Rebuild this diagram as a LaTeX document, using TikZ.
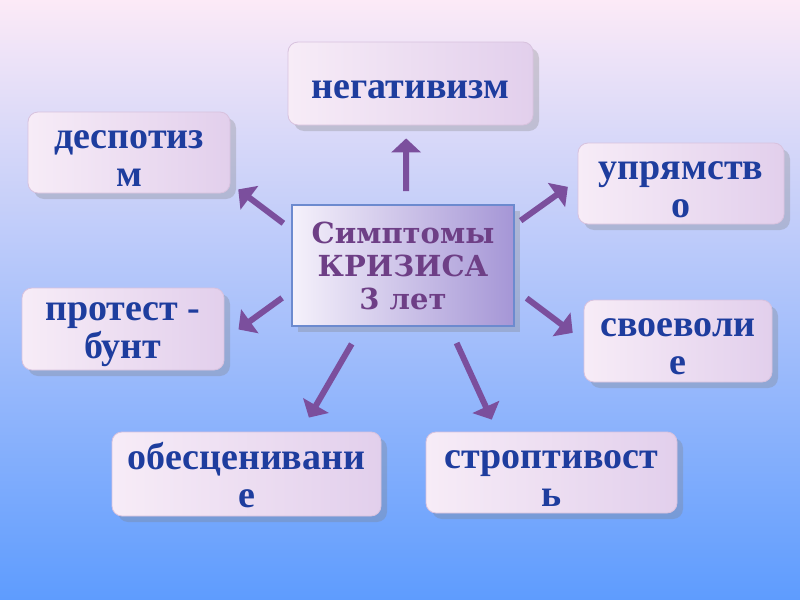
\documentclass[tikz,border=0pt]{standalone}
\usepackage{fontspec}
\setmainfont{Liberation Serif}
\newfontfamily\hubfont{DejaVu Serif}
\usetikzlibrary{arrows.meta,shadows}
\definecolor{bgtop}{HTML}{FCEAF7}
\definecolor{bgmid}{HTML}{A9CDF3}
\definecolor{bgbot}{HTML}{5E9CFE}
\definecolor{boxleft}{HTML}{F7ECF7}
\definecolor{boxright}{HTML}{E2CFEC}
\definecolor{boxline}{HTML}{D8C2DE}
\definecolor{wordblue}{HTML}{1E3D9E}
\definecolor{hubpurple}{HTML}{6E3F86}
\definecolor{arrowpurple}{HTML}{7B4F9D}
\definecolor{hubleft}{HTML}{F5F1FB}
\definecolor{hubright}{HTML}{A596D6}
\definecolor{hubline}{HTML}{6C8ACF}

\begin{document}
\begin{tikzpicture}[
  x=0.5pt,y=-0.5pt,
  >={Triangle[length=7pt,width=14.5pt]},
  symptom/.style={draw=boxline,rounded corners=5pt,left color=boxleft,right color=boxright,
    drop shadow={shadow xshift=3pt,shadow yshift=-3pt,opacity=.3},inner ysep=0pt,
    text=wordblue,align=center,font=\bfseries\fontsize{19}{19}\selectfont,
    execute at begin node={\rule{0pt}{14.7pt}}},
  pair/.style={symptom,execute at begin node={\rule{0pt}{34pt}}},
  hub/.style={draw=hubline,line width=.8pt,left color=hubleft,right color=hubright,
    drop shadow={shadow xshift=3pt,shadow yshift=-3pt,opacity=.3},
    text=hubpurple,align=center,font=\hubfont\bfseries\fontsize{14.5}{16.5}\selectfont},
  flow/.style={->,line width=3pt,draw=arrowpurple}
]
  \shade[top color=bgtop,middle color=bgmid,bottom color=bgbot] (0,0) rectangle (800,600);

  \node[hub,minimum width=111pt,minimum height=60.5pt] (sym) at (403,265.5) {Симптомы\\КРИЗИСА\\3 лет};
  \node[symptom,minimum width=122.5pt,minimum height=41.5pt] (neg) at (410.5,83.5) {негативизм};
  \node[pair,minimum width=101pt,minimum height=40.5pt] (desp) at (129,152.5) {деспотиз\\м};
  \node[pair,minimum width=103pt,minimum height=40.5pt] (upr) at (681,183.5) {упрямств\\о};
  \node[pair,minimum width=101pt,minimum height=41pt] (prot) at (123,329) {протест -\\бунт};
  \node[pair,minimum width=94pt,minimum height=41pt] (svo) at (678,341) {своеволи\\е};
  \node[pair,minimum width=134.5pt,minimum height=42pt] (obes) at (246.5,474) {обесценивани\\е};
  \node[pair,minimum width=125.5pt,minimum height=40.5pt] (strop) at (551.5,472.5) {строптивост\\ь};

  \draw[flow,shorten <=6.5pt,shorten >=6.5pt] (sym.87) -- (neg.-96);
  \draw[flow,shorten <=4.9pt,shorten >=4.9pt] (sym.162) -- (desp.-17.5);
  \draw[flow,shorten <=3.6pt,shorten >=6pt] (sym.20) -- (upr.178.6);
  \draw[flow,shorten <=5.6pt,shorten >=8.7pt] (sym.-167.4) -- (prot.-6.4);
  \draw[flow,shorten <=7.4pt,shorten >=6.8pt] (sym.-12.6) -- (svo.180);
  \draw[flow,shorten <=9.9pt,shorten >=8.1pt] (sym.-124.1) -- (obes.38.2);
  \draw[flow,shorten <=8.9pt,shorten >=6.6pt] (sym.-53.7) -- (strop.143);
\end{tikzpicture}
\end{document}
